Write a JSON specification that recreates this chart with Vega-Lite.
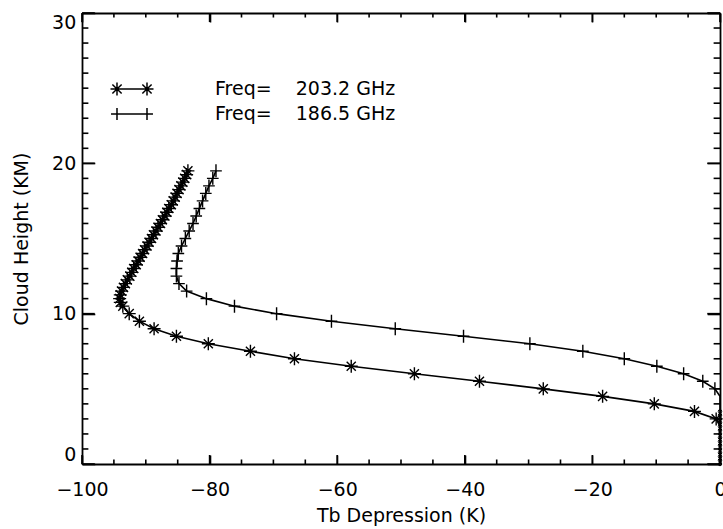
{
  "$schema": "https://vega.github.io/schema/vega-lite/v6.json",
  "width": 638,
  "height": 451,
  "autosize": {"type": "none"},
  "padding": {"left": 82, "top": 13, "right": 3, "bottom": 65},
  "background": "white",
  "config": {
    "view": {"stroke": null},
    "axis": {
      "grid": false,
      "domainColor": "black",
      "domainWidth": 1.8,
      "tickColor": "black",
      "tickWidth": 1.6,
      "labelFont": "DejaVu Sans",
      "labelFontSize": 19,
      "labelColor": "black",
      "titleFont": "DejaVu Sans",
      "titleFontSize": 19,
      "titleFontWeight": "normal",
      "titleColor": "black",
      "labelOverlap": false
    }
  },
  "datasets": {
    "series": [
      {"freq": "203.2", "h": 0, "tb": 0},
      {"freq": "203.2", "h": 0.5, "tb": 0},
      {"freq": "203.2", "h": 1.0, "tb": 0},
      {"freq": "203.2", "h": 1.5, "tb": 0},
      {"freq": "203.2", "h": 2.0, "tb": 0},
      {"freq": "203.2", "h": 2.5, "tb": 0},
      {"freq": "203.2", "h": 3.0, "tb": -0.6},
      {"freq": "203.2", "h": 3.5, "tb": -4.0},
      {"freq": "203.2", "h": 4.0, "tb": -10.3},
      {"freq": "203.2", "h": 4.5, "tb": -18.4},
      {"freq": "203.2", "h": 5.0, "tb": -27.7},
      {"freq": "203.2", "h": 5.5, "tb": -37.7},
      {"freq": "203.2", "h": 6.0, "tb": -47.9},
      {"freq": "203.2", "h": 6.5, "tb": -57.8},
      {"freq": "203.2", "h": 7.0, "tb": -66.7},
      {"freq": "203.2", "h": 7.5, "tb": -73.6},
      {"freq": "203.2", "h": 8.0, "tb": -80.2},
      {"freq": "203.2", "h": 8.5, "tb": -85.2},
      {"freq": "203.2", "h": 9.0, "tb": -88.7},
      {"freq": "203.2", "h": 9.5, "tb": -91.0},
      {"freq": "203.2", "h": 10.0, "tb": -92.6},
      {"freq": "203.2", "h": 10.5, "tb": -93.6},
      {"freq": "203.2", "h": 10.75, "tb": -94.0},
      {"freq": "203.2", "h": 11.0, "tb": -94.1},
      {"freq": "203.2", "h": 11.25, "tb": -94.0},
      {"freq": "203.2", "h": 11.5, "tb": -93.8},
      {"freq": "203.2", "h": 11.75, "tb": -93.5},
      {"freq": "203.2", "h": 12.0, "tb": -93.2},
      {"freq": "203.2", "h": 12.25, "tb": -92.9},
      {"freq": "203.2", "h": 12.5, "tb": -92.5},
      {"freq": "203.2", "h": 12.75, "tb": -92.2},
      {"freq": "203.2", "h": 13.0, "tb": -91.9},
      {"freq": "203.2", "h": 13.25, "tb": -91.5},
      {"freq": "203.2", "h": 13.5, "tb": -91.2},
      {"freq": "203.2", "h": 13.75, "tb": -90.9},
      {"freq": "203.2", "h": 14.0, "tb": -90.5},
      {"freq": "203.2", "h": 14.25, "tb": -90.2},
      {"freq": "203.2", "h": 14.5, "tb": -89.8},
      {"freq": "203.2", "h": 14.75, "tb": -89.5},
      {"freq": "203.2", "h": 15.0, "tb": -89.1},
      {"freq": "203.2", "h": 15.25, "tb": -88.8},
      {"freq": "203.2", "h": 15.5, "tb": -88.4},
      {"freq": "203.2", "h": 15.75, "tb": -88.1},
      {"freq": "203.2", "h": 16.0, "tb": -87.7},
      {"freq": "203.2", "h": 16.25, "tb": -87.4},
      {"freq": "203.2", "h": 16.5, "tb": -87.0},
      {"freq": "203.2", "h": 16.75, "tb": -86.7},
      {"freq": "203.2", "h": 17.0, "tb": -86.4},
      {"freq": "203.2", "h": 17.25, "tb": -86.0},
      {"freq": "203.2", "h": 17.5, "tb": -85.7},
      {"freq": "203.2", "h": 17.75, "tb": -85.4},
      {"freq": "203.2", "h": 18.0, "tb": -85.1},
      {"freq": "203.2", "h": 18.25, "tb": -84.8},
      {"freq": "203.2", "h": 18.5, "tb": -84.5},
      {"freq": "203.2", "h": 18.75, "tb": -84.2},
      {"freq": "203.2", "h": 19.0, "tb": -83.9},
      {"freq": "203.2", "h": 19.25, "tb": -83.6},
      {"freq": "203.2", "h": 19.5, "tb": -83.4},
      {"freq": "186.5", "h": 0, "tb": 0},
      {"freq": "186.5", "h": 0.5, "tb": 0},
      {"freq": "186.5", "h": 1.0, "tb": 0},
      {"freq": "186.5", "h": 1.5, "tb": 0},
      {"freq": "186.5", "h": 2.0, "tb": 0},
      {"freq": "186.5", "h": 2.5, "tb": 0},
      {"freq": "186.5", "h": 3.0, "tb": 0},
      {"freq": "186.5", "h": 3.5, "tb": 0},
      {"freq": "186.5", "h": 4.0, "tb": 0},
      {"freq": "186.5", "h": 4.5, "tb": 0},
      {"freq": "186.5", "h": 5.0, "tb": -0.8},
      {"freq": "186.5", "h": 5.5, "tb": -2.7},
      {"freq": "186.5", "h": 6.0, "tb": -5.7},
      {"freq": "186.5", "h": 6.5, "tb": -9.9},
      {"freq": "186.5", "h": 7.0, "tb": -15.0},
      {"freq": "186.5", "h": 7.5, "tb": -21.5},
      {"freq": "186.5", "h": 8.0, "tb": -29.8},
      {"freq": "186.5", "h": 8.5, "tb": -40.2},
      {"freq": "186.5", "h": 9.0, "tb": -50.9},
      {"freq": "186.5", "h": 9.5, "tb": -60.9},
      {"freq": "186.5", "h": 10.0, "tb": -69.5},
      {"freq": "186.5", "h": 10.5, "tb": -76.1},
      {"freq": "186.5", "h": 11.0, "tb": -80.5},
      {"freq": "186.5", "h": 11.5, "tb": -83.6},
      {"freq": "186.5", "h": 12.0, "tb": -84.8},
      {"freq": "186.5", "h": 12.5, "tb": -85.2},
      {"freq": "186.5", "h": 13.0, "tb": -85.2},
      {"freq": "186.5", "h": 13.5, "tb": -85.1},
      {"freq": "186.5", "h": 14.0, "tb": -84.9},
      {"freq": "186.5", "h": 14.5, "tb": -84.4},
      {"freq": "186.5", "h": 15.0, "tb": -83.8},
      {"freq": "186.5", "h": 15.5, "tb": -83.2},
      {"freq": "186.5", "h": 16.0, "tb": -82.6},
      {"freq": "186.5", "h": 16.5, "tb": -82.1},
      {"freq": "186.5", "h": 17.0, "tb": -81.6},
      {"freq": "186.5", "h": 17.5, "tb": -81.1},
      {"freq": "186.5", "h": 18.0, "tb": -80.6},
      {"freq": "186.5", "h": 18.5, "tb": -80.1},
      {"freq": "186.5", "h": 19.0, "tb": -79.5},
      {"freq": "186.5", "h": 19.5, "tb": -79.0}
    ],
    "zero": [
      {"h": 0, "tb": 0}, {"h": 0.25, "tb": 0}, {"h": 0.5, "tb": 0}, {"h": 0.75, "tb": 0},
      {"h": 1.0, "tb": 0}, {"h": 1.25, "tb": 0}, {"h": 1.5, "tb": 0}, {"h": 1.75, "tb": 0},
      {"h": 2.0, "tb": 0}, {"h": 2.25, "tb": 0}, {"h": 2.5, "tb": 0}, {"h": 2.75, "tb": 0},
      {"h": 3.0, "tb": 0}, {"h": 3.25, "tb": 0}, {"h": 3.5, "tb": 0}
    ],
    "xmajor": [{"v": -100}, {"v": -80}, {"v": -60}, {"v": -40}, {"v": -20}, {"v": 0}],
    "xminor": [
      {"v": -95}, {"v": -90}, {"v": -85}, {"v": -75}, {"v": -70}, {"v": -65},
      {"v": -55}, {"v": -50}, {"v": -45}, {"v": -35}, {"v": -30}, {"v": -25},
      {"v": -15}, {"v": -10}, {"v": -5}
    ],
    "ymajor": [{"v": 0}, {"v": 10}, {"v": 20}, {"v": 30}],
    "yminor": [
      {"v": 1}, {"v": 2}, {"v": 3}, {"v": 4}, {"v": 5}, {"v": 6}, {"v": 7}, {"v": 8}, {"v": 9},
      {"v": 11}, {"v": 12}, {"v": 13}, {"v": 14}, {"v": 15}, {"v": 16}, {"v": 17}, {"v": 18}, {"v": 19},
      {"v": 21}, {"v": 22}, {"v": 23}, {"v": 24}, {"v": 25}, {"v": 26}, {"v": 27}, {"v": 28}, {"v": 29}
    ]
  },
  "layer": [
    {
      "data": {"name": "series"},
      "mark": {"type": "line", "color": "black", "strokeWidth": 1.6},
      "encoding": {
        "x": {
          "field": "tb", "type": "quantitative",
          "scale": {"domain": [-100, 0], "nice": false, "zero": false},
          "axis": {
            "orient": "bottom", "offset": 0,
            "title": "Tb Depression (K)",
            "values": [-100, -80, -60, -40, -20, 0],
            "tickSize": -9,
            "labelFlush": false,
            "labelPadding": 25,
            "titlePadding": 7
          }
        },
        "y": {
          "field": "h", "type": "quantitative",
          "scale": {"domain": [0, 30], "nice": false, "zero": false},
          "axis": {
            "orient": "left", "offset": 0,
            "title": "Cloud Height (KM)",
            "values": [0, 10, 20, 30],
            "tickSize": -12.8,
            "labelPadding": 19,
            "labelFlush": true,
            "titlePadding": 20
          }
        },
        "detail": {"field": "freq"},
        "order": {"field": "h", "type": "quantitative"}
      }
    },
    {
      "data": {"name": "zero"},
      "mark": {"type": "point", "shape": "circle", "filled": false, "stroke": "black", "strokeWidth": 1, "size": 12, "opacity": 1},
      "encoding": {
        "x": {
          "field": "tb", "type": "quantitative",
          "scale": {"domain": [-100, 0], "nice": false, "zero": false},
          "axis": {
            "orient": "top", "offset": 0, "title": null, "labels": false,
            "values": [-100, -80, -60, -40, -20, 0],
            "tickSize": -9
          }
        },
        "y": {
          "field": "h", "type": "quantitative",
          "scale": {"domain": [0, 30], "nice": false, "zero": false},
          "axis": {
            "orient": "right", "offset": 0, "title": null, "labels": false,
            "values": [0, 10, 20, 30],
            "tickSize": -12.8
          }
        }
      }
    },
    {
      "data": {"name": "xmajor"},
      "mark": {"type": "rule", "color": "black", "strokeWidth": 1.6},
      "encoding": {
        "x": {"field": "v", "type": "quantitative", "axis": null},
        "y": {"datum": 0, "type": "quantitative", "axis": null},
        "y2": {"datum": 0.6}
      }
    },
    {
      "data": {"name": "xmajor"},
      "mark": {"type": "rule", "color": "black", "strokeWidth": 1.6},
      "encoding": {
        "x": {"field": "v", "type": "quantitative", "axis": null},
        "y": {"datum": 30, "type": "quantitative", "axis": null},
        "y2": {"datum": 29.4}
      }
    },
    {
      "data": {"name": "xminor"},
      "mark": {"type": "rule", "color": "black", "strokeWidth": 1.6},
      "encoding": {
        "x": {"field": "v", "type": "quantitative", "axis": null},
        "y": {"datum": 0, "type": "quantitative", "axis": null},
        "y2": {"datum": 0.3}
      }
    },
    {
      "data": {"name": "xminor"},
      "mark": {"type": "rule", "color": "black", "strokeWidth": 1.6},
      "encoding": {
        "x": {"field": "v", "type": "quantitative", "axis": null},
        "y": {"datum": 30, "type": "quantitative", "axis": null},
        "y2": {"datum": 29.7}
      }
    },
    {
      "data": {"name": "ymajor"},
      "mark": {"type": "rule", "color": "black", "strokeWidth": 1.6},
      "encoding": {
        "y": {"field": "v", "type": "quantitative", "axis": null},
        "x": {"datum": -100, "type": "quantitative", "axis": null},
        "x2": {"datum": -98}
      }
    },
    {
      "data": {"name": "ymajor"},
      "mark": {"type": "rule", "color": "black", "strokeWidth": 1.6},
      "encoding": {
        "y": {"field": "v", "type": "quantitative", "axis": null},
        "x": {"datum": 0, "type": "quantitative", "axis": null},
        "x2": {"datum": -2}
      }
    },
    {
      "data": {"name": "yminor"},
      "mark": {"type": "rule", "color": "black", "strokeWidth": 1.6},
      "encoding": {
        "y": {"field": "v", "type": "quantitative", "axis": null},
        "x": {"datum": -100, "type": "quantitative", "axis": null},
        "x2": {"datum": -99}
      }
    },
    {
      "data": {"name": "yminor"},
      "mark": {"type": "rule", "color": "black", "strokeWidth": 1.6},
      "encoding": {
        "y": {"field": "v", "type": "quantitative", "axis": null},
        "x": {"datum": 0, "type": "quantitative", "axis": null},
        "x2": {"datum": -1}
      }
    },
    {
      "data": {"name": "series"},
      "transform": [{"filter": "datum.tb < 0"}],
      "mark": {"type": "point", "filled": false, "stroke": "black", "strokeWidth": 1.4, "size": 169, "opacity": 1},
      "encoding": {
        "x": {"field": "tb", "type": "quantitative", "axis": null},
        "y": {"field": "h", "type": "quantitative", "axis": null},
        "shape": {
          "field": "freq", "type": "nominal",
          "scale": {
            "domain": ["203.2", "186.5"],
            "range": [
              "M-1,0L1,0M0,-1L0,1M-0.7,-0.7L0.7,0.7M-0.7,0.7L0.7,-0.7",
              "M-0.9,0L0.9,0M0,-1L0,1"
            ]
          },
          "legend": null
        }
      }
    },
    {
      "data": {"name": "series"},
      "transform": [{"filter": "false"}],
      "mark": {"type": "point", "filled": false, "stroke": "black", "strokeWidth": 1.5, "size": 324, "opacity": 1},
      "encoding": {
        "x": {"field": "tb", "type": "quantitative", "axis": null},
        "y": {"field": "h", "type": "quantitative", "axis": null},
        "shape": {
          "field": "freq", "type": "nominal",
          "scale": {
            "domain": ["203.2", "186.5"],
            "range": [
              "M-1.667,0L1.667,0M-2.39,0L-0.94,0M-1.667,-0.72L-1.667,0.72M-2.18,-0.51L-1.15,0.51M-2.18,0.51L-1.15,-0.51M0.94,0L2.39,0M1.667,-0.72L1.667,0.72M1.15,-0.51L2.18,0.51M1.15,0.51L2.18,-0.51",
              "M-1.667,0L1.667,0M-2.33,0L-1.0,0M-1.667,-0.667L-1.667,0.667M1.0,0L2.33,0M1.667,-0.667L1.667,0.667"
            ]
          },
          "legend": {
            "orient": "none",
            "legendX": 40,
            "legendY": 66,
            "title": null,
            "padding": 0,
            "symbolSize": 324,
            "symbolStrokeWidth": 1.5,
            "symbolStrokeColor": "black",
            "symbolFillColor": "transparent",
            "labelOffset": 73,
            "labelLimit": 400,
            "rowPadding": 5,
            "labelFont": "DejaVu Sans",
            "labelFontSize": 19,
            "labelColor": "black",
            "labelExpr": "'Freq=\u00a0\u00a0\u00a0\u00a0' + datum.label + ' GHz'"
          }
        }
      }
    }
  ],
  "resolve": {"axis": {"x": "independent", "y": "independent"}, "scale": {"shape": "independent"}}
}
